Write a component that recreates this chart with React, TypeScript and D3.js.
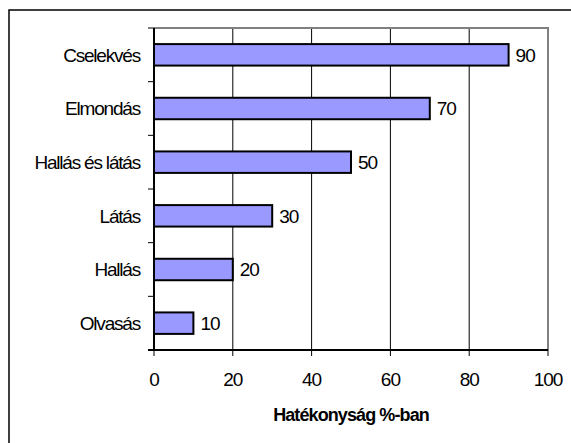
import React from "react";
import * as d3 from "d3";

// Effectiveness of learning methods (percent)
const categories: string[] = ["Cselekvés", "Elmondás", "Hallás és látás", "Látás", "Hallás", "Olvasás"];
const values: number[] = [90, 70, 50, 30, 20, 10];
const xTicks: number[] = [0, 20, 40, 60, 80, 100];
const xTitle = "Hatékonyság %-ban";

const W = 571;
const H = 443;
const plot = { left: 154, right: 548, top: 28, bottom: 350 };
const FONT = "'Liberation Sans', Arial, sans-serif";

export default function App() {
  const x = d3.scaleLinear().domain([0, 100]).range([plot.left, plot.right]);
  const band = d3
    .scaleBand<string>()
    .domain(categories)
    .range([plot.top, plot.bottom])
    .paddingInner(0.6)
    .paddingOuter(0.3);
  const step = band.step();
  const bandEdges = d3.range(categories.length + 1).map((i) => plot.top + i * step);

  return (
    <svg
      width={W}
      height={H}
      style={{ position: "fixed", left: 0, top: 0, background: "#fff" }}
      fontFamily={FONT}
    >
      <rect x={0} y={0} width={W} height={H} fill="#fff" />
      {/* chart frame */}
      <rect x={9} y={10} width={W} height={H} fill="none" stroke="#000" strokeWidth={1.5} />

      {/* vertical gridlines */}
      {xTicks
        .filter((t) => t > 0 && t < 100)
        .map((t) => (
          <line key={"g" + t} x1={x(t)} x2={x(t)} y1={plot.top} y2={plot.bottom} stroke="#000" strokeWidth={1} />
        ))}

      {/* plot area border (top/right) */}
      <polyline
        points={`${plot.left},${plot.top} ${plot.right},${plot.top} ${plot.right},${plot.bottom}`}
        fill="none"
        stroke="#808080"
        strokeWidth={2}
      />

      {/* bars */}
      {categories.map((c, i) => {
        const y0 = band(c)!;
        return (
          <g key={c}>
            <rect
              x={x(0)}
              y={y0}
              width={x(values[i]) - x(0)}
              height={band.bandwidth()}
              fill="#9999FF"
              stroke="#000"
              strokeWidth={2}
            />
            <text
              x={x(values[i]) + 7}
              y={y0 + band.bandwidth() / 2}
              dy="0.36em"
              fontSize={19}
              letterSpacing={-1}
              fill="#000"
            >
              {values[i]}
            </text>
            <text
              x={140}
              y={y0 + band.bandwidth() / 2}
              dy="0.36em"
              textAnchor="end"
              fontSize={19}
              letterSpacing={-1.2}
              fill="#000"
            >
              {c}
            </text>
          </g>
        );
      })}

      {/* y axis */}
      <line x1={plot.left} x2={plot.left} y1={plot.top} y2={plot.bottom} stroke="#000" strokeWidth={2} />
      {bandEdges.map((y, i) => (
        <line key={"yt" + i} x1={plot.left - 6} x2={plot.left} y1={y} y2={y} stroke="#000" strokeWidth={1} />
      ))}

      {/* x axis */}
      <line x1={plot.left - 6} x2={plot.right} y1={plot.bottom} y2={plot.bottom} stroke="#000" strokeWidth={2} />
      {xTicks.map((t) => (
        <g key={"xt" + t}>
          <line x1={x(t)} x2={x(t)} y1={plot.bottom} y2={plot.bottom + 6} stroke="#000" strokeWidth={1} />
          <text x={x(t)} y={386} textAnchor="middle" fontSize={19} letterSpacing={-1} fill="#000">
            {t}
          </text>
        </g>
      ))}

      <text
        x={(plot.left + plot.right) / 2}
        y={421}
        textAnchor="middle"
        fontSize={18}
        fontWeight="bold"
        letterSpacing={-0.9}
        fill="#000"
      >
        {xTitle}
      </text>
    </svg>
  );
}
